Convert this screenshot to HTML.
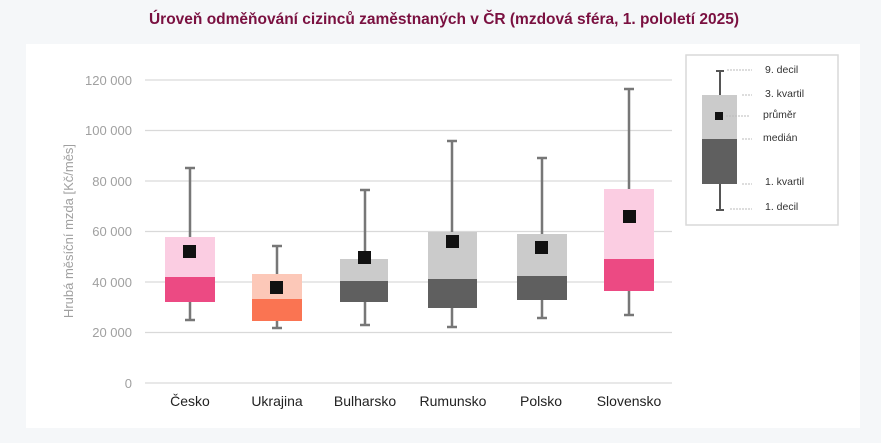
<!DOCTYPE html>
<html><head><meta charset="utf-8"><style>
body{margin:0;width:881px;height:438px;background:#f5f7f9;overflow:hidden}
</style></head><body>
<svg width="881" height="438" xmlns="http://www.w3.org/2000/svg" font-family="Liberation Sans, sans-serif">
<rect x="0" y="0" width="881" height="438" fill="#f5f7f9"/>
<text x="444" y="24" text-anchor="middle" font-size="15.5" font-weight="bold" fill="#7a1040">Úroveň odměňování cizinců zaměstnaných v ČR (mzdová sféra, 1. pololetí 2025)</text>
<rect x="26" y="44" width="834" height="384" fill="#fff"/>
<g stroke="#d9d9d9" stroke-width="1.2">
<line x1="145" x2="672" y1="80" y2="80"/><line x1="145" x2="672" y1="130.5" y2="130.5"/>
<line x1="145" x2="672" y1="181" y2="181"/><line x1="145" x2="672" y1="231.5" y2="231.5"/>
<line x1="145" x2="672" y1="282" y2="282"/><line x1="145" x2="672" y1="332.5" y2="332.5"/>
<line x1="145" x2="672" y1="383" y2="383"/>
</g>
<g font-size="13" fill="#a0a0a0" text-anchor="end">
<text x="132" y="85">120 000</text><text x="132" y="135">100 000</text><text x="132" y="186">80 000</text>
<text x="132" y="236">60 000</text><text x="132" y="287">40 000</text><text x="132" y="337">20 000</text><text x="132" y="388">0</text>
</g>
<text transform="translate(73,231) rotate(-90)" text-anchor="middle" font-size="13" fill="#a0a0a0">Hrubá měsíční mzda [Kč/měs]</text>
<g stroke="#777" stroke-width="2.5">
<line x1="190" x2="190" y1="168" y2="320"/><line x1="185" x2="195" y1="168" y2="168"/><line x1="185" x2="195" y1="320" y2="320"/>
<line x1="277" x2="277" y1="246" y2="328"/><line x1="272" x2="282" y1="246" y2="246"/><line x1="272" x2="282" y1="328" y2="328"/>
<line x1="365" x2="365" y1="190" y2="325"/><line x1="360" x2="370" y1="190" y2="190"/><line x1="360" x2="370" y1="325" y2="325"/>
<line x1="452" x2="452" y1="141" y2="327"/><line x1="447" x2="457" y1="141" y2="141"/><line x1="447" x2="457" y1="327" y2="327"/>
<line x1="542" x2="542" y1="158" y2="318"/><line x1="537" x2="547" y1="158" y2="158"/><line x1="537" x2="547" y1="318" y2="318"/>
<line x1="629" x2="629" y1="89" y2="315"/><line x1="624" x2="634" y1="89" y2="89"/><line x1="624" x2="634" y1="315" y2="315"/>
</g>
<rect x="165" y="237" width="50" height="40" fill="#fbcde2"/><rect x="165" y="277" width="50" height="25" fill="#ec4a83"/>
<rect x="252" y="274" width="50" height="25" fill="#fcc8b8"/><rect x="252" y="299" width="50" height="22" fill="#fa7452"/>
<rect x="340" y="259" width="48" height="22" fill="#cbcbcb"/><rect x="340" y="281" width="48" height="21" fill="#5f5f5f"/>
<rect x="428" y="232" width="49" height="47" fill="#cbcbcb"/><rect x="428" y="279" width="49" height="29" fill="#5f5f5f"/>
<rect x="517" y="234" width="50" height="42" fill="#cbcbcb"/><rect x="517" y="276" width="50" height="24" fill="#5f5f5f"/>
<rect x="604" y="189" width="50" height="70" fill="#fbcde2"/><rect x="604" y="259" width="50" height="32" fill="#ec4a83"/>
<g fill="#111">
<rect x="183" y="245" width="13" height="13"/><rect x="270" y="281" width="13" height="13"/><rect x="358" y="251" width="13" height="13"/>
<rect x="446" y="235" width="13" height="13"/><rect x="535" y="241" width="13" height="13"/><rect x="623" y="210" width="13" height="13"/>
</g>
<g font-size="14" fill="#222" text-anchor="middle">
<text x="190" y="406">Česko</text><text x="277" y="406">Ukrajina</text><text x="365" y="406">Bulharsko</text>
<text x="453" y="406">Rumunsko</text><text x="541" y="406">Polsko</text><text x="629" y="406">Slovensko</text>
</g>
<rect x="686" y="55" width="152" height="170" fill="#fff" stroke="#d9d9d9" stroke-width="1.5"/>
<line x1="720" x2="720" y1="71" y2="210" stroke="#555" stroke-width="2"/>
<line x1="716" x2="724" y1="71" y2="71" stroke="#555" stroke-width="2"/><line x1="716" x2="724" y1="210" y2="210" stroke="#555" stroke-width="2"/>
<rect x="702" y="95" width="35" height="44" fill="#cbcbcb"/><rect x="702" y="139" width="35" height="45" fill="#5f5f5f"/>
<rect x="715" y="112" width="8" height="8" fill="#111"/>
<g stroke="#bbb" stroke-width="1" stroke-dasharray="2,1">
<line x1="727" x2="752" y1="70" y2="70"/><line x1="742" x2="752" y1="95" y2="95"/><line x1="726" x2="750" y1="116" y2="116"/>
<line x1="742" x2="752" y1="139" y2="139"/><line x1="742" x2="752" y1="184" y2="184"/><line x1="730" x2="752" y1="209" y2="209"/>
</g>
<g font-size="10.5" fill="#333">
<text x="765" y="73">9. decil</text><text x="765" y="97">3. kvartil</text><text x="763" y="118">průměr</text>
<text x="763" y="141">medián</text><text x="765" y="185">1. kvartil</text><text x="765" y="210">1. decil</text>
</g>
</svg>
</body></html>
